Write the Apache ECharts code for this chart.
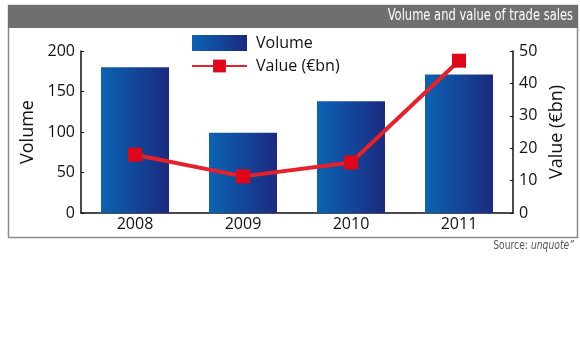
<!DOCTYPE html>
<html><head><meta charset="utf-8">
<script src="https://cdn.jsdelivr.net/npm/echarts@6/dist/echarts.min.js"></script>
<style>html,body{margin:0;padding:0;background:#fff}#c{width:580px;height:358px}</style>
</head><body><div id="c"></div>
<script>
const categories = ['2008', '2009', '2010', '2011'];
const volume = [180, 99, 138, 171];
const value = [18, 11.3, 15.6, 47];
const leftTicks = [0, 50, 100, 150, 200];
const rightTicks = [0, 10, 20, 30, 40, 50];
const title = 'Volume and value of trade sales';
const source = 'Source: ';
const sourceItalic = 'unquote\u201D';

const chart = echarts.init(document.getElementById('c'), null, {renderer: 'canvas'});
const font = '"Open Sans", "Noto Sans", sans-serif';
const narrow = '"Liberation Sans Narrow", "DejaVu Sans Condensed", sans-serif';
chart.setOption({
  animation: false,
  backgroundColor: '#fff',
  graphic: [
    {type: 'rect', shape: {x: 8.5, y: 5.5, width: 569, height: 232}, style: {fill: 'none', stroke: '#8a8a8a', lineWidth: 1.5}, z: 0},
    {type: 'rect', shape: {x: 8, y: 5, width: 570, height: 23}, style: {fill: '#6e6f71'}, z: 1},
    {type: 'text', x: 573, y: 16, originX: 0, scaleX: 0.8,
     style: {text: title, fill: '#fff', font: '16px ' + narrow, align: 'right', verticalAlign: 'middle'}, z: 2},
    {type: 'text', x: 574, y: 246, originX: 0, scaleX: 0.82,
     style: {rich: {a: {fill: '#555', font: '12.5px ' + narrow}, b: {fill: '#555', font: 'italic 12.5px ' + narrow}},
       text: '{a|' + source + '}{b|' + sourceItalic + '}', align: 'right', verticalAlign: 'middle'}, z: 2}
  ],
  legend: {
    orient: 'vertical', left: 191, top: 35, padding: 0, itemWidth: 55, itemHeight: 16, itemGap: 7,
    textStyle: {fontFamily: font, fontSize: 16, color: '#111', padding: [0, 0, 0, 4]},
    data: [{name: 'Volume', icon: 'rect'}, 'Value (\u20ACbn)']
  },
  grid: {left: 81, right: 67, top: 51, bottom: 145},
  xAxis: {
    type: 'category', data: categories,
    axisLine: {lineStyle: {color: '#111', width: 1.5}},
    axisTick: {inside: true, length: 4, lineStyle: {color: '#111'}},
    axisLabel: {fontFamily: font, fontSize: 16, color: '#111', margin: 3}
  },
  yAxis: [
    {type: 'value', min: 0, max: 200, interval: 50, name: 'Volume', nameLocation: 'middle', nameGap: 44,
     nameTextStyle: {fontFamily: font, fontSize: 18, color: '#111'},
     axisLine: {show: true, lineStyle: {color: '#111', width: 1.5}},
     axisTick: {show: true, inside: true, length: 3, lineStyle: {color: '#111'}},
     splitLine: {show: false},
     axisLabel: {fontFamily: font, fontSize: 16, color: '#111', margin: 6,
       formatter: v => leftTicks.includes(v) ? String(v) : ''}},
    {type: 'value', min: 0, max: 50, interval: 10, name: 'Value (\u20ACbn)', nameLocation: 'middle', nameGap: 34,
     nameTextStyle: {fontFamily: font, fontSize: 18, color: '#111'},
     axisLine: {show: true, lineStyle: {color: '#111', width: 1.5}},
     axisTick: {show: true, inside: true, length: 3, lineStyle: {color: '#111'}},
     splitLine: {show: false},
     axisLabel: {fontFamily: font, fontSize: 16, color: '#111', margin: 6,
       formatter: v => rightTicks.includes(v) ? String(v) : ''}}
  ],
  series: [
    {name: 'Volume', type: 'bar', data: volume, barWidth: 68, yAxisIndex: 0,
     itemStyle: {color: new echarts.graphic.LinearGradient(0, 0, 1, 0, [
       {offset: 0, color: '#0b63b3'}, {offset: 1, color: '#1b2a7f'}])}},
    {name: 'Value (\u20ACbn)', type: 'line', data: value, yAxisIndex: 1,
     symbol: 'rect', symbolSize: 14, showAllSymbol: true,
     lineStyle: {color: '#e8202a', width: 4},
     itemStyle: {color: '#e0061a'}, z: 5}
  ]
});
</script></body></html>
